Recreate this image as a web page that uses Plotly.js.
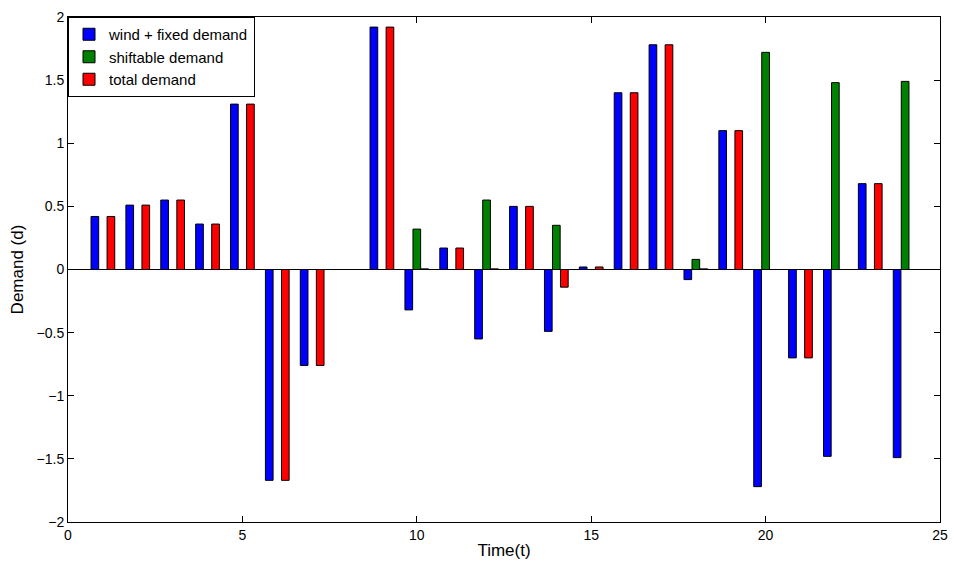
<!DOCTYPE html>
<html>
<head>
<meta charset="utf-8">
<script src="https://cdn.plot.ly/plotly-3.0.1.min.js"></script>
<style>html,body{margin:0;padding:0;background:#fff}#chart{width:954px;height:565px}</style>
</head>
<body>
<div id="chart"></div>
<script>
const times = [1,2,3,4,5,6,7,8,9,10,11,12,13,14,15,16,17,18,19,20,21,22,23,24];
const windFixed = [0.42,0.51,0.55,0.36,1.31,-1.67,-0.76,0,1.92,-0.32,0.17,-0.55,0.50,-0.49,0.02,1.40,1.78,-0.08,1.10,-1.72,-0.70,-1.48,0.68,-1.49];
const shiftable = [0,0,0,0,0,0,0,0,0,0.32,0,0.55,0,0.35,0,0,0,0.08,0,1.72,0,1.48,0,1.49];
const totalDemand = [0.42,0.51,0.55,0.36,1.31,-1.67,-0.76,0,1.92,0.005,0.17,0.005,0.50,-0.14,0.02,1.40,1.78,0.005,1.10,0,-0.70,0,0.68,0];

const bar = (y, name, color, offset) => ({
    type: 'bar', x: times, y, name, width: 0.22, offset,
    marker: {color, line: {color: '#000', width: 1}}
});
const data = [
    bar(windFixed, 'wind + fixed demand', '#0000ff', -0.34),
    bar(shiftable, 'shiftable demand', '#008000', -0.11),
    bar(totalDemand, 'total demand', '#ff0000', 0.12)
];
const axis = {
    showgrid: false, zeroline: false, showline: true, mirror: 'ticks',
    linecolor: '#000', linewidth: 1, ticks: 'inside', ticklen: 6, tickcolor: '#000'
};
const layout = {
    width: 954, height: 565,
    margin: {l: 68, r: 14, t: 17, b: 43},
    barmode: 'overlay',
    showlegend: true,
    font: {family: 'Liberation Sans, Arial', size: 14, color: '#000'},
    paper_bgcolor: '#fff', plot_bgcolor: '#fff',
    legend: {x: 0, y: 1, xanchor: 'left', yanchor: 'top', bgcolor: '#fff',
        bordercolor: '#000', borderwidth: 1, font: {size: 15}, tracegroupgap: 0},
    xaxis: Object.assign({}, axis, {range: [0, 25], dtick: 5,
        title: {text: 'Time(t)', standoff: 2}}),
    yaxis: Object.assign({}, axis, {range: [-2, 2], dtick: 0.5,
        title: {text: 'Demand (d)', standoff: 8}}),
    shapes: [{type: 'line', xref: 'paper', x0: 0, x1: 1, yref: 'y', y0: 0, y1: 0,
        line: {color: '#000', width: 1}}]
};
Plotly.newPlot('chart', data, layout, {displayModeBar: false});
</script>
</body>
</html>
